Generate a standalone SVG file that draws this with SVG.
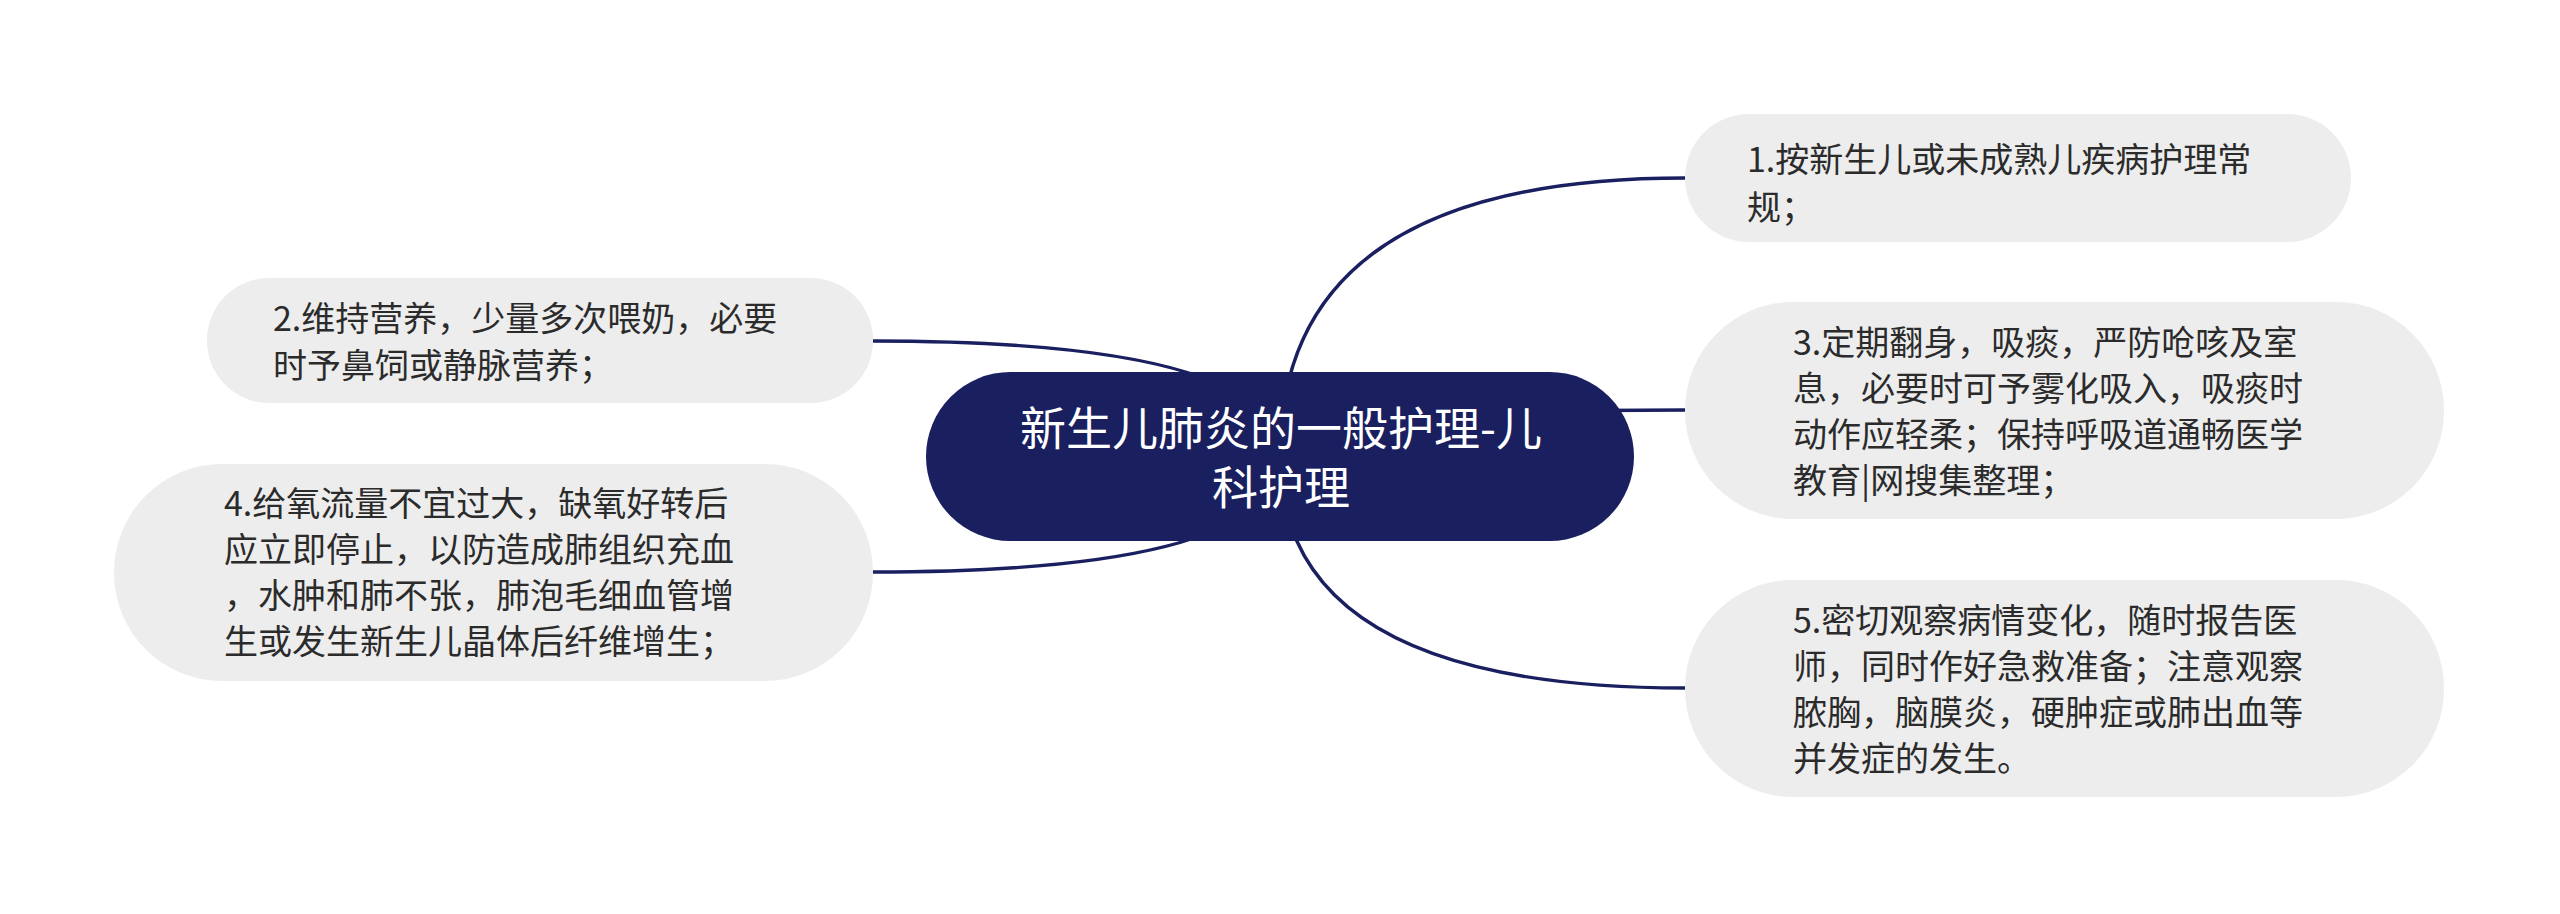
<svg xmlns="http://www.w3.org/2000/svg" width="2560" height="914" viewBox="0 0 2560 914">
<style>
.bg{fill:#ffffff}
.conn{fill:none;stroke:#1a1f5f;stroke-width:3.4}
.leaf{fill:#ededed}
.root{fill:#1a1f5f}
.lt{font-family:"Noto Sans CJK SC","Noto Sans",sans-serif;font-size:34px;fill:#2b2b2b}
.rt{font-family:"Noto Sans CJK SC","Noto Sans",sans-serif;font-size:46px;fill:#ffffff;text-anchor:middle}
</style>
<rect class="bg" x="0" y="0" width="2560" height="914"/>
<g id="connectors">
<path class="conn" d="M1280,456 Q1280,178 1685,178"/>
<path class="conn" d="M1280,456 Q1280,410 1685,410"/>
<path class="conn" d="M1280,456 Q1280,688 1685,688"/>
<path class="conn" d="M1280,456 Q1280,341 873,341"/>
<path class="conn" d="M1280,456 Q1280,572 873,572"/>
</g>
<g id="root">
<rect class="root" x="926" y="372" width="708" height="169" rx="84.5"/>
<text class="rt"><tspan x="1281" y="445">新生儿肺炎的一般护理-儿</tspan><tspan x="1281" y="504">科护理</tspan></text>
</g>
<g id="node1">
<rect class="leaf" x="1685" y="114" width="666" height="128" rx="64"/>
<text class="lt"><tspan x="1747" y="172">1.按新生儿或未成熟儿疾病护理常</tspan><tspan x="1747" y="220">规；</tspan></text>
</g>
<g id="node3">
<rect class="leaf" x="1685" y="302" width="759" height="217" rx="108"/>
<text class="lt"><tspan x="1793" y="355">3.定期翻身，吸痰，严防呛咳及室</tspan><tspan x="1793" y="401">息，必要时可予雾化吸入，吸痰时</tspan><tspan x="1793" y="447">动作应轻柔；保持呼吸道通畅医学</tspan><tspan x="1793" y="493">教育|网搜集整理；</tspan></text>
</g>
<g id="node5">
<rect class="leaf" x="1685" y="580" width="759" height="217" rx="108"/>
<text class="lt"><tspan x="1793" y="633">5.密切观察病情变化，随时报告医</tspan><tspan x="1793" y="679">师，同时作好急救准备；注意观察</tspan><tspan x="1793" y="725">脓胸，脑膜炎，硬肿症或肺出血等</tspan><tspan x="1793" y="771">并发症的发生。</tspan></text>
</g>
<g id="node2">
<rect class="leaf" x="207" y="278" width="666" height="125" rx="62"/>
<text class="lt"><tspan x="273" y="331">2.维持营养，少量多次喂奶，必要</tspan><tspan x="273" y="378">时予鼻饲或静脉营养；</tspan></text>
</g>
<g id="node4">
<rect class="leaf" x="114" y="464" width="759" height="217" rx="108"/>
<text class="lt"><tspan x="224" y="516">4.给氧流量不宜过大，缺氧好转后</tspan><tspan x="224" y="562">应立即停止，以防造成肺组织充血</tspan><tspan x="224" y="608">，水肿和肺不张，肺泡毛细血管增</tspan><tspan x="224" y="654">生或发生新生儿晶体后纤维增生；</tspan></text>
</g>
</svg>
